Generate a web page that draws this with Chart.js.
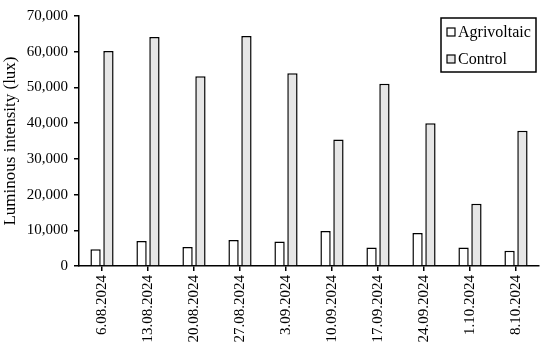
<!DOCTYPE html>
<html>
<head>
<meta charset="utf-8">
<script src="https://cdn.jsdelivr.net/npm/chart.js@4"></script>
<style>
	body { margin: 0; background: #fff; }
	#wrap { width: 550px; height: 353px; }
</style>
</head>
<body>
<div id="wrap"><canvas id="bar-chart" width="550" height="353"></canvas></div>
<script>
// dates of measurement
var dates = ["6.08.2024", "13.08.2024", "20.08.2024", "27.08.2024", "3.09.2024",
	"10.09.2024", "17.09.2024", "24.09.2024", "1.10.2024", "8.10.2024"];
// luminous intensity (lux)
var agrivoltaic = [4700, 7000, 5300, 7300, 6850, 9800, 5150, 9250, 5150, 4300];
var control = [60200, 64100, 53100, 64400, 54000, 35400, 51000, 40000, 17400, 37900];

var serif = "'Liberation Serif', 'Times New Roman', serif";

// legend box drawn top right, inside the plot
var boxLegend = {
	id: 'boxLegend',
	afterDraw: function(chart) {
		var ctx = chart.ctx;
		var x = 441, y = 18, w = 95, h = 54;
		ctx.save();
		ctx.lineWidth = 1.5;
		ctx.strokeStyle = '#000';
		ctx.fillStyle = '#fff';
		ctx.fillRect(x, y, w, h);
		ctx.strokeRect(x, y, w, h);
		ctx.font = "16px " + serif;
		ctx.textBaseline = 'middle';
		var rows = [32, 59];
		chart.data.datasets.forEach(function(d, i) {
			ctx.fillStyle = d.backgroundColor;
			ctx.fillRect(447, rows[i] - 4, 8, 8);
			ctx.lineWidth = 1.2;
			ctx.strokeRect(447, rows[i] - 4, 8, 8);
			ctx.fillStyle = '#000';
			ctx.fillText(d.label, 458, rows[i] + 1);
		});
		ctx.restore();
	}
};

new Chart(document.getElementById("bar-chart"), {
	type: 'bar',
	data: {
		labels: dates,
		datasets: [
			{
				label: "Agrivoltaic",
				data: agrivoltaic,
				backgroundColor: "#ffffff",
				borderColor: "#000000",
				borderWidth: 1.5
			},
			{
				label: "Control",
				data: control,
				backgroundColor: "#e6e6e6",
				borderColor: "#000000",
				borderWidth: 1.5
			}
		]
	},
	options: {
		responsive: false,
		animation: false,
		maintainAspectRatio: false,
		categoryPercentage: 0.56,
		barPercentage: 0.8,
		layout: { padding: { left: 0, right: 11, top: 16, bottom: 0 } },
		plugins: {
			legend: { display: false },
			tooltip: { enabled: false }
		},
		scales: {
			x: {
				afterFit: function(s) { s.height = 87; },
				grid: { offset: false, drawOnChartArea: false, color: '#000', tickLength: 5, lineWidth: 1.5 },
				border: { display: true, color: '#000', width: 1.5 },
				ticks: {
					color: '#000',
					font: { family: serif, size: 15 },
					minRotation: 90,
					maxRotation: 90,
					padding: 4,
					autoSkip: false
				}
			},
			y: {
				min: 0,
				max: 70000,
				afterFit: function(s) { s.width = 79; },
				grid: { drawOnChartArea: false, color: '#000', tickLength: 5, lineWidth: 1.5 },
				border: { display: true, color: '#000', width: 1.5 },
				ticks: {
					stepSize: 10000,
					color: '#000',
					padding: 6,
					font: { family: serif, size: 15 },
					callback: function(v) { return v.toLocaleString('en-US'); }
				},
				title: {
					display: true,
					text: "Luminous intensity (lux)",
					color: '#000',
					font: { family: serif, size: 17 },
					padding: { top: 0, bottom: 0 }
				}
			}
		}
	},
	plugins: [boxLegend]
});
</script>
</body>
</html>
